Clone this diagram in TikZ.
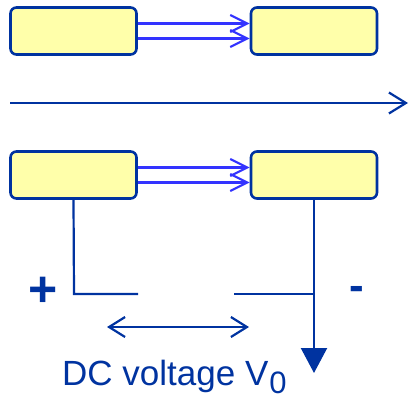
\documentclass[tikz,border=0pt]{standalone}
\usepackage{fontspec}
\setmainfont{Liberation Sans}
\usetikzlibrary{arrows.meta}
\definecolor{dkblue}{HTML}{0033A0}
\definecolor{brblue}{HTML}{3333FF}
\definecolor{boxyellow}{HTML}{FFFFAA}
\begin{document}
\begin{tikzpicture}[x=1pt,y=-1pt,
  box/.style={draw=dkblue,line width=2.6pt,fill=boxyellow,rounded corners=6pt,
    minimum width=126pt,minimum height=47pt,inner sep=0pt},
  beam/.style={draw=brblue,line width=2.2pt,-{Straight Barb[length=17pt,width=17pt]}},
  wire/.style={draw=dkblue,line width=2.2pt},
  lbl/.style={text=dkblue,inner sep=0pt}]
\useasboundingbox (0,0) rectangle (410,399);
% boxes
\node[box] (tl) at (73.5,31) {};
\node[box] (tr) at (314,31) {};
\node[box] (bl) at (73.5,175) {};
\node[box] (br) at (314,175) {};
% beam arrows
\draw[beam] ([yshift=7.5pt]tl.east) -- ([yshift=7.5pt]tr.west);
\draw[beam] ([yshift=-7.5pt]tl.east) -- ([yshift=-7.5pt]tr.west);
\draw[beam] ([yshift=7.5pt]bl.east) -- ([yshift=7.5pt]br.west);
\draw[beam] ([yshift=-7.5pt]bl.east) -- ([yshift=-7.5pt]br.west);
% middle axis arrow
\coordinate (m1) at (10,103);
\coordinate (m2) at (408,103);
\draw[wire,-{Straight Barb[length=17pt,width=21pt]}] (m1) -- (m2);
% wires
\coordinate (lc) at (74,294);
\coordinate (le) at (138,294);
\coordinate (rs) at (234,294);
\coordinate (rj) at (314,294);
\coordinate (rt) at (314,373);
\draw[wire] (bl.south) -- (lc) -- (le);
\draw[wire] (rs) -- (rj);
\draw[wire,-{Triangle[length=25pt,width=26pt]}] (br.south) -- (rt);
% gap arrow
\coordinate (g1) at (107,327);
\coordinate (g2) at (249,327);
\draw[wire,{Straight Barb[length=16pt,width=20pt]}-{Straight Barb[length=16pt,width=20pt]}] (g1) -- (g2);
% labels
\node[lbl,anchor=base,font=\fontsize{50}{50}\selectfont\bfseries] (plus) at (43,306) {+};
\node[lbl,anchor=base,font=\fontsize{44}{44}\selectfont\bfseries] (minus) at (357,300) {-};
\node[lbl,anchor=base west,font=\fontsize{35}{35}\selectfont] (dc) at (62,385)
  {DC voltage V\kern1pt\raisebox{-8pt}{\fontsize{31}{31}\selectfont 0}};
\end{tikzpicture}
\end{document}
